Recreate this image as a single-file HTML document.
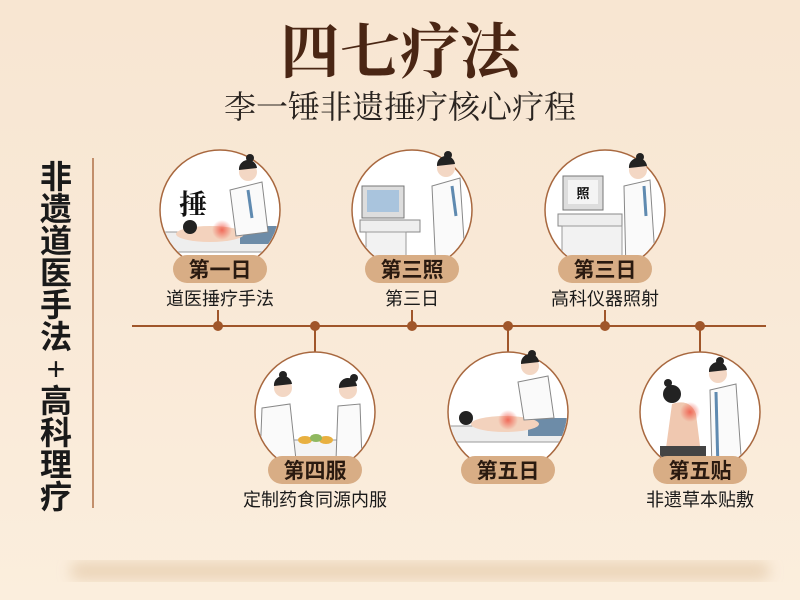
<!DOCTYPE html>
<html><head><meta charset="utf-8"><style>
html,body{margin:0;padding:0;width:800px;height:600px;overflow:hidden;background:#f9e9d7}
svg{display:block}
.sans{font-family:"Liberation Sans","Noto Sans CJK SC",sans-serif}
.serif{font-family:"Liberation Serif","Noto Serif CJK SC",serif}
</style></head><body>
<svg width="800" height="600" viewBox="0 0 800 600" xmlns="http://www.w3.org/2000/svg">
<defs>
<linearGradient id="bg" x1="0" y1="0" x2="0" y2="1"><stop offset="0" stop-color="#f8e6d2"/><stop offset="0.5" stop-color="#f9e9d7"/><stop offset="1" stop-color="#fbeedd"/></linearGradient>
<filter id="blur"><feGaussianBlur stdDeviation="7"/></filter>
<radialGradient id="red"><stop offset="0" stop-color="#f05040" stop-opacity="0.8"/><stop offset="1" stop-color="#f05040" stop-opacity="0"/></radialGradient>
<clipPath id="c1"><circle cx="220" cy="210" r="59"/></clipPath>
<clipPath id="c2"><circle cx="412" cy="210" r="59"/></clipPath>
<clipPath id="c3"><circle cx="605" cy="210" r="59"/></clipPath>
<clipPath id="c4"><circle cx="315" cy="412" r="59"/></clipPath>
<clipPath id="c5"><circle cx="508" cy="412" r="59"/></clipPath>
<clipPath id="c6"><circle cx="700" cy="412" r="59"/></clipPath>
</defs>
<rect width="800" height="600" fill="url(#bg)"/>
<rect x="70" y="562" width="700" height="18" rx="9" fill="#e4c9a8" opacity="0.7" filter="url(#blur)"/>

<text x="400" y="73" text-anchor="middle" class="serif" font-size="60" font-weight="bold" fill="#4a2614">四七疗法</text>
<text x="400" y="118" text-anchor="middle" class="serif" font-size="32" fill="#2a2420">李一锤非遗捶疗核心疗程</text>

<g class="sans" font-size="32" font-weight="bold" fill="#1a1a1a" text-anchor="middle">
<text x="56" y="188">非</text><text x="56" y="220">遗</text><text x="56" y="252">道</text><text x="56" y="284">医</text><text x="56" y="316">手</text><text x="56" y="348">法</text><text x="56" y="380" font-weight="normal">+</text><text x="56" y="412">高</text><text x="56" y="444">科</text><text x="56" y="476">理</text><text x="56" y="508">疗</text>
</g>
<line x1="93" y1="158" x2="93" y2="508" stroke="#b07048" stroke-width="1.5"/>

<line x1="132" y1="326" x2="766" y2="326" stroke="#a0562a" stroke-width="2"/>
<g stroke="#a0562a" stroke-width="2">
<line x1="218" y1="310" x2="218" y2="326"/><line x1="412" y1="310" x2="412" y2="326"/><line x1="605" y1="310" x2="605" y2="326"/>
<line x1="315" y1="326" x2="315" y2="353"/><line x1="508" y1="326" x2="508" y2="353"/><line x1="700" y1="326" x2="700" y2="353"/>
</g>
<g fill="#a0562a"><circle cx="218" cy="326" r="5"/><circle cx="315" cy="326" r="5"/><circle cx="412" cy="326" r="5"/><circle cx="508" cy="326" r="5"/><circle cx="605" cy="326" r="5"/><circle cx="700" cy="326" r="5"/></g>

<g fill="#fff" stroke="#a8683f" stroke-width="1.5">
<circle cx="220" cy="210" r="60"/><circle cx="412" cy="210" r="60"/><circle cx="605" cy="210" r="60"/>
<circle cx="315" cy="412" r="60"/><circle cx="508" cy="412" r="60"/><circle cx="700" cy="412" r="60"/>
</g>

<g clip-path="url(#c1)">
<text x="193" y="214" text-anchor="middle" class="serif" font-size="28" font-weight="bold" fill="#111">捶</text>
<rect x="160" y="232" width="120" height="20" fill="#eee" stroke="#999"/>
<rect x="240" y="226" width="40" height="18" fill="#6d8ca8"/>
<ellipse cx="210" cy="234" rx="34" ry="8" fill="#f3d2bd"/>
<circle cx="222" cy="230" r="10" fill="url(#red)"/>
<circle cx="190" cy="227" r="7" fill="#222"/>
<path d="M230 190 L262 182 L268 232 L236 236 Z" fill="#fafafa" stroke="#888"/>
<path d="M248 190 L252 218" stroke="#5f8ab0" stroke-width="3"/>
</g>
<circle cx="248" cy="172" r="9" fill="#f3d7c4"/><path d="M239 170 a9 9 0 0 1 18 -2 Z" fill="#222"/><circle cx="250" cy="158" r="4" fill="#222"/>
<g clip-path="url(#c2)">
<rect x="362" y="186" width="42" height="32" fill="#ddd" stroke="#777"/>
<rect x="367" y="190" width="32" height="22" fill="#a9c4dd"/>
<rect x="360" y="220" width="60" height="12" fill="#eee" stroke="#888"/>
<rect x="366" y="232" width="40" height="40" fill="#f2f2f2" stroke="#999"/>
<path d="M432 186 L460 178 L466 272 L436 272 Z" fill="#fafafa" stroke="#888"/>
<path d="M452 186 L456 216" stroke="#5f8ab0" stroke-width="3"/>
</g>
<circle cx="446" cy="168" r="9" fill="#f3d7c4"/><path d="M437 166 a9 9 0 0 1 18 -2 Z" fill="#222"/><circle cx="448" cy="155" r="4" fill="#222"/>
<g clip-path="url(#c3)">
<rect x="563" y="176" width="40" height="34" fill="#ddd" stroke="#777"/>
<rect x="568" y="180" width="30" height="24" fill="#f4f4f4"/>
<text x="583" y="198" text-anchor="middle" class="sans" font-size="13" font-weight="bold" fill="#111">照</text>
<rect x="558" y="214" width="64" height="12" fill="#eee" stroke="#888"/>
<rect x="562" y="226" width="60" height="46" fill="#f2f2f2" stroke="#999"/>
<path d="M624 186 L650 180 L656 272 L626 272 Z" fill="#fafafa" stroke="#888"/>
<path d="M644 186 L646 216" stroke="#5f8ab0" stroke-width="3"/>
</g>
<circle cx="638" cy="170" r="9" fill="#f3d7c4"/><path d="M629 168 a9 9 0 0 1 18 -2 Z" fill="#222"/><circle cx="640" cy="157" r="4" fill="#222"/>
<g clip-path="url(#c4)">
<rect x="285" y="440" width="62" height="20" fill="#f4f4f4" stroke="#999"/>
<ellipse cx="305" cy="440" rx="7" ry="4" fill="#e8b040"/><ellipse cx="326" cy="440" rx="7" ry="4" fill="#e8b040"/><ellipse cx="316" cy="438" rx="6" ry="4" fill="#8fb860"/>
<path d="M262 408 L290 404 L296 460 L260 460 Z" fill="#fafafa" stroke="#888"/>
<circle cx="283" cy="388" r="9" fill="#f3d7c4"/><path d="M274 386 a9 9 0 0 1 18 -2 Z" fill="#222"/><circle cx="283" cy="375" r="4" fill="#222"/>
<path d="M338 406 L360 404 L362 460 L336 460 Z" fill="#fafafa" stroke="#888"/>
<circle cx="348" cy="390" r="9" fill="#f3d7c4"/><path d="M339 388 a9 9 0 0 1 18 -2 Z" fill="#222"/><circle cx="354" cy="378" r="4" fill="#222"/>
</g>
<g clip-path="url(#c5)">
<rect x="450" y="426" width="120" height="16" fill="#eee" stroke="#999"/>
<rect x="528" y="418" width="44" height="18" fill="#6d8ca8"/>
<ellipse cx="505" cy="424" rx="34" ry="8" fill="#f3d2bd"/>
<circle cx="508" cy="420" r="10" fill="url(#red)"/>
<circle cx="466" cy="418" r="7" fill="#222"/>
<path d="M518 382 L548 376 L554 418 L524 420 Z" fill="#fafafa" stroke="#888"/>
</g>
<circle cx="530" cy="366" r="9" fill="#f3d7c4"/><path d="M521 364 a9 9 0 0 1 18 -2 Z" fill="#222"/><circle cx="532" cy="354" r="4" fill="#222"/>
<g clip-path="url(#c6)">
<path d="M672 404 Q690 398 696 414 L700 446 L666 448 Z" fill="#f0c8b0"/>
<circle cx="690" cy="412" r="10" fill="url(#red)"/>
<rect x="660" y="446" width="46" height="14" fill="#444"/>
<circle cx="672" cy="394" r="9" fill="#222"/><circle cx="668" cy="383" r="4" fill="#222"/>
<path d="M710 390 L736 384 L742 470 L712 470 Z" fill="#fafafa" stroke="#888"/>
<path d="M716 392 L718 470" stroke="#5f8ab0" stroke-width="3"/>
</g>
<circle cx="718" cy="374" r="9" fill="#f3d7c4"/><path d="M709 372 a9 9 0 0 1 18 -2 Z" fill="#222"/><circle cx="720" cy="361" r="4" fill="#222"/>

<g fill="#d8ad85">
<rect x="173" y="255" width="94" height="28" rx="14"/><rect x="365" y="255" width="94" height="28" rx="14"/><rect x="558" y="255" width="94" height="28" rx="14"/>
<rect x="268" y="456" width="94" height="28" rx="14"/><rect x="461" y="456" width="94" height="28" rx="14"/><rect x="653" y="456" width="94" height="28" rx="14"/>
</g>
<g class="sans" font-size="21" font-weight="bold" fill="#2a1a10" text-anchor="middle">
<text x="220" y="277">第一日</text><text x="412" y="277">第三照</text><text x="605" y="277">第三日</text>
<text x="315" y="478">第四服</text><text x="508" y="478">第五日</text><text x="700" y="478">第五贴</text>
</g>
<g class="sans" font-size="18" fill="#1a1a1a" text-anchor="middle">
<text x="220" y="305">道医捶疗手法</text><text x="412" y="305">第三日</text><text x="605" y="305">高科仪器照射</text>
<text x="315" y="506">定制药食同源内服</text><text x="700" y="506">非遗草本贴敷</text>
</g>
</svg>
</body></html>
